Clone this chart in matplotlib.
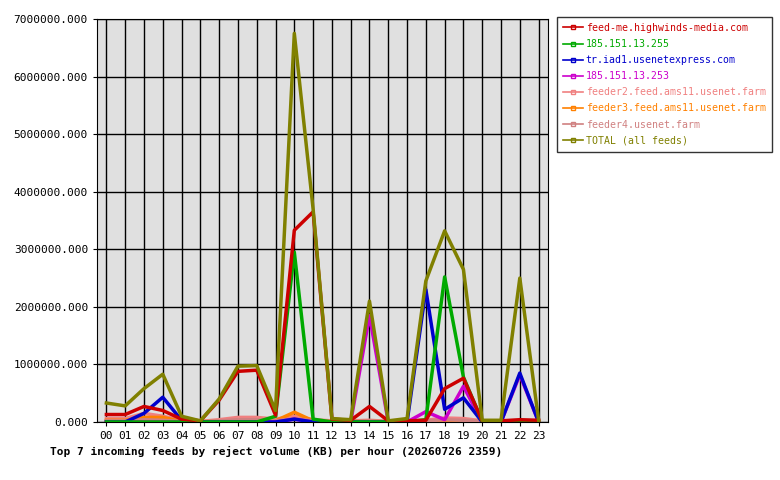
import matplotlib
matplotlib.use("Agg")
import matplotlib.pyplot as plt

hours = [f"{h:02d}" for h in range(24)]
names = ["feed-me.highwinds-media.com", "185.151.13.255", "tr.iad1.usenetexpress.com",
         "185.151.13.253", "feeder2.feed.ams11.usenet.farm", "feeder3.feed.ams11.usenet.farm",
         "feeder4.usenet.farm", "TOTAL (all feeds)"]
colors = ["#cc0000", "#00aa00", "#0000cc", "#cc00cc", "#f08080", "#ff8000", "#d08080", "#808000"]
red = [130e3,130e3,270e3,200e3,50e3,20e3,380e3,880e3,900e3,120e3,3330e3,3650e3,50e3,30e3,270e3,20e3,20e3,30e3,580e3,760e3,20e3,20e3,40e3,30e3]
green = [0,0,0,0,0,0,0,0,0,100e3,2950e3,50e3,0,0,0,0,0,40e3,2520e3,780e3,10e3,0,0,0]
blue = [0,0,150e3,430e3,30e3,0,0,0,0,0,50e3,0,0,0,0,0,0,2300e3,220e3,420e3,0,0,850e3,0]
magenta = [0,0,0,0,0,0,0,0,0,0,50e3,0,0,0,1850e3,0,0,180e3,40e3,620e3,0,0,820e3,0]
feeder2 = [60e3,60e3,150e3,100e3,30e3,10e3,40e3,80e3,80e3,50e3,100e3,40e3,20e3,20e3,30e3,10e3,20e3,30e3,70e3,60e3,20e3,20e3,20e3,20e3]
feeder3 = [30e3,30e3,80e3,80e3,10e3,5e3,10e3,20e3,20e3,20e3,170e3,20e3,10e3,10e3,10e3,5e3,10e3,10e3,20e3,20e3,5e3,5e3,10e3,10e3]
feeder4 = [20e3,20e3,40e3,30e3,10e3,5e3,20e3,40e3,40e3,20e3,60e3,20e3,10e3,10e3,20e3,5e3,10e3,20e3,40e3,30e3,10e3,10e3,10e3,10e3]
total = [330e3,280e3,580e3,830e3,100e3,20e3,400e3,970e3,980e3,200e3,6750e3,3700e3,60e3,40e3,2100e3,20e3,60e3,2450e3,3320e3,2650e3,30e3,30e3,2500e3,30e3]
series = [red, green, blue, magenta, feeder2, feeder3, feeder4, total]

plt.rcParams['font.family'] = 'DejaVu Sans Mono'
fig = plt.figure(figsize=(7.8, 4.8), dpi=100)
ax = fig.add_axes([97/780, 58/480, 451/780, 403/480])
ax.set_facecolor("#e0e0e0")
x = list(range(24))
order = [7, 4, 5, 6, 3, 2, 1, 0]
for i in order:
    ax.plot(x, series[i], color=colors[i], lw=2.5, zorder=3 if i != 7 else 4)
ax.set_xlim(-0.5, 23.5)
ax.set_ylim(0, 7e6)
ax.set_xticks(x)
ax.set_xticklabels(hours, fontsize=8)
yt = [i * 1e6 for i in range(8)]
ax.set_yticks(yt)
ax.set_yticklabels([f"{v:.3f}" for v in yt], fontsize=8)
for xv in x:
    ax.axvline(xv, color="black", lw=1, zorder=1)
for yv in yt:
    ax.axhline(yv, color="black", lw=1, zorder=1)
for s in ax.spines.values():
    s.set_color("black")
ax.tick_params(length=3)
ax.set_xlabel("Top 7 incoming feeds by reject volume (KB) per hour (20260726 2359)",
              fontsize=8, fontweight='bold', loc='left', labelpad=4)
ax.xaxis.set_label_coords(-0.105, -0.06)
handles = [plt.Line2D([], [], color=c, lw=1.2, marker='s', markersize=2.5, markerfacecolor='none') for c in colors]
leg = fig.legend(handles, names, loc='upper left', bbox_to_anchor=(557/780, 1 - 17/480),
                 fontsize=7.1, frameon=True, fancybox=False, edgecolor='black',
                 handlelength=2.0, handletextpad=0.3, labelspacing=0.62, borderpad=0.6,
                 borderaxespad=0)
leg.get_frame().set_linewidth(1)
for t, c in zip(leg.get_texts(), colors):
    t.set_color(c)
fig.savefig("out.png", dpi=100, facecolor="white")
